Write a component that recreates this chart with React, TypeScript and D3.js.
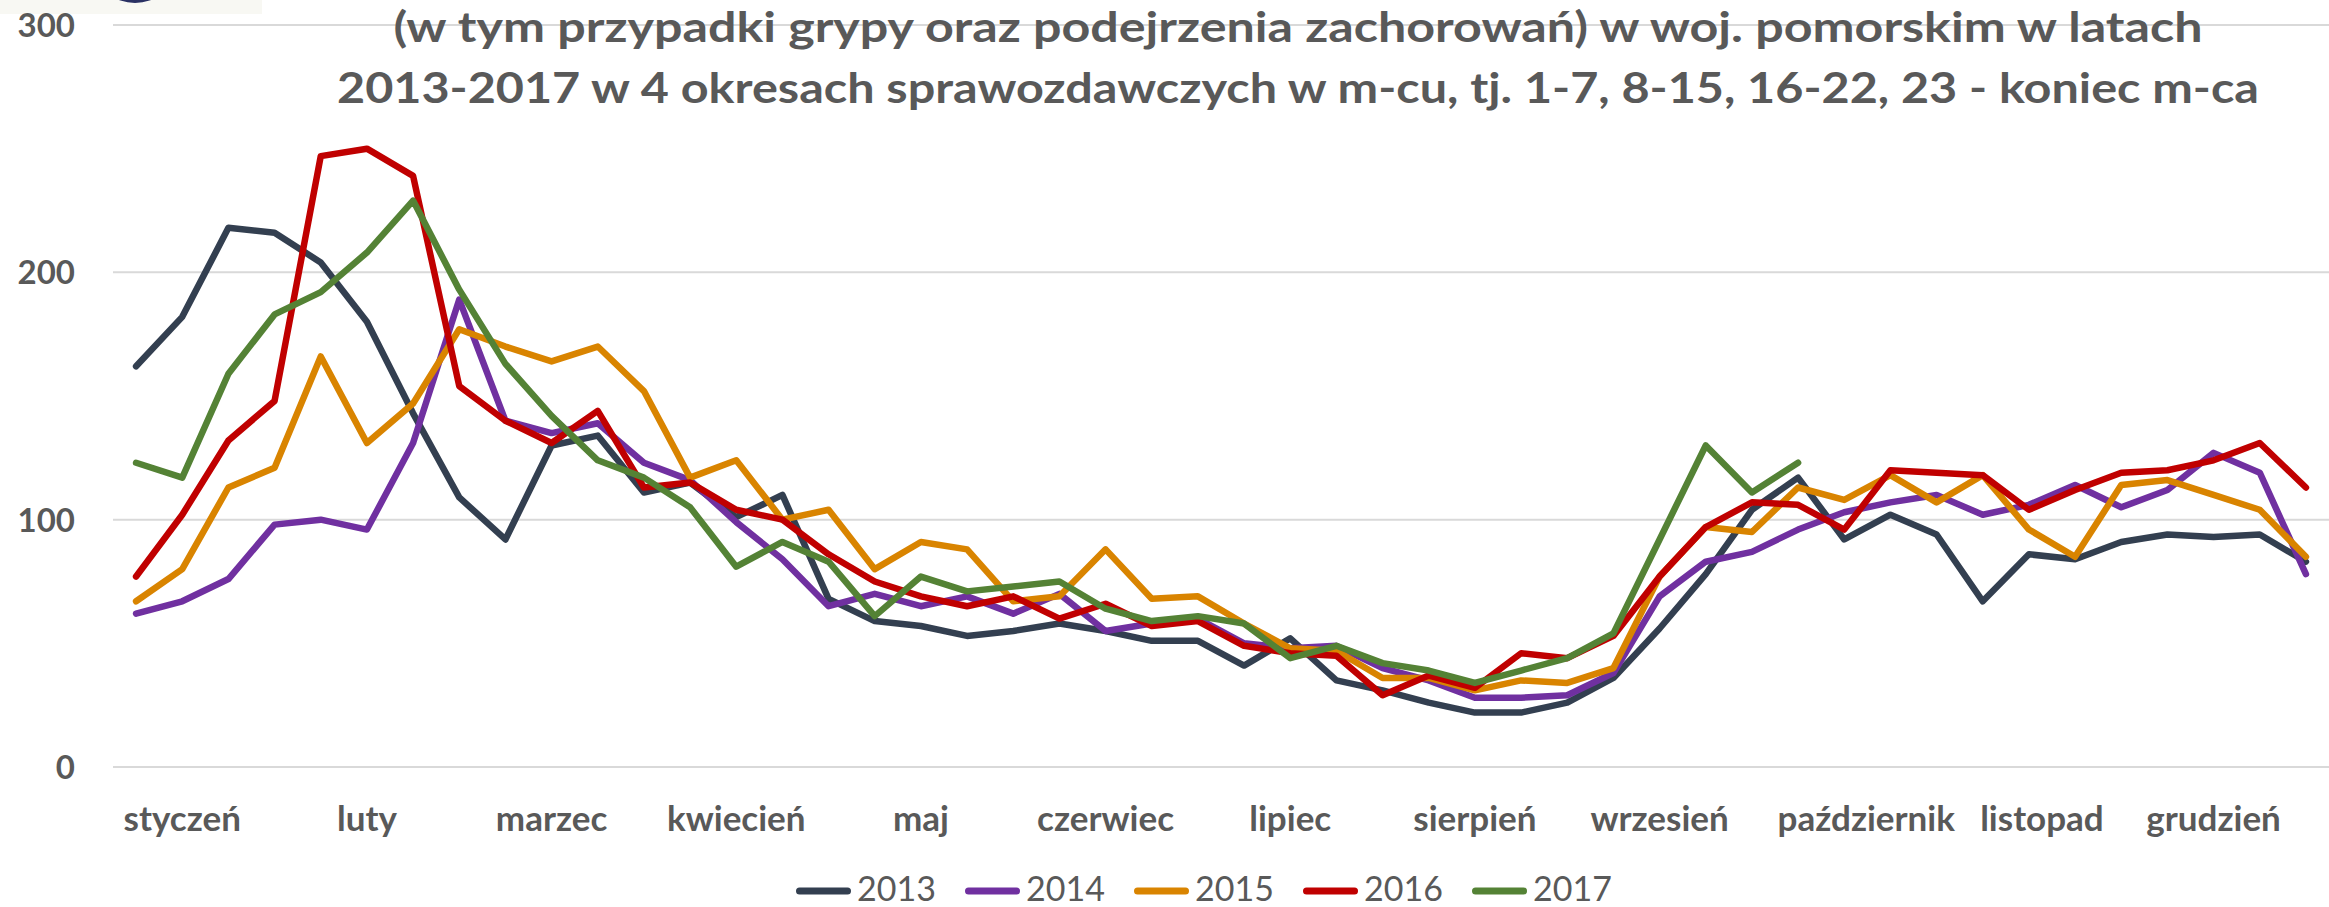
import React from "react";
import * as d3 from "d3";

const months = ["styczeń","luty","marzec","kwiecień","maj","czerwiec","lipiec","sierpień","wrzesień","październik","listopad","grudzień"];
const yTicks = [0, 100, 200, 300];
const years = ["2013", "2014", "2015", "2016", "2017"];
const titleLines = [
  "(w tym przypadki grypy oraz podejrzenia zachorowań) w woj. pomorskim w latach",
  "2013-2017 w 4 okresach sprawozdawczych w m-cu, tj. 1-7, 8-15, 16-22, 23 - koniec m-ca",
];

const v2013 = [162,182,218,216, 204,180,143,109, 92,130,134,111, 115,101,110,68, 59,57,53,55, 58,55,51,51, 41,52,35,31, 26,22,22,26, 36,56,78,104, 117,92,102,94, 67,86,84,91, 94,93,94,83];
const v2014 = [62,67,76,98, 100,96,131,189, 140,135,139,123, 116,99,84,65, 70,65,69,62, 70,55,58,60, 50,48,49,40, 35,28,28,29, 38,69,83,87, 96,103,107,110, 102,106,114,105, 112,127,119,78];
const v2015 = [67,80,113,121, 166,131,147,177, 170,164,170,152, 117,124,100,104, 80,91,88,67, 69,88,68,69, 58,48,47,36, 36,31,35,34, 40,77,97,95, 113,108,118,107, 118,96,85,114, 116,110,104,85];
const v2016 = [77,102,132,148, 247,250,239,154, 140,131,144,113, 115,104,100,86, 75,69,65,69, 60,66,57,59, 49,46,45,29, 37,32,46,44, 53,77,97,107, 106,96,120,119, 118,104,112,119, 120,124,131,113];
const v2017 = [123,117,159,183, 192,208,229,193, 163,142,124,117, 105,81,91,83, 61,77,71,73, 75,64,59,61, 58,44,49,42, 39,34,39,44, 54,92,130,111, 123];

const seriesValues = [v2013, v2014, v2015, v2016, v2017];
const colors = ["#333F50", "#7030A0", "#D98400", "#C00000", "#548235"];

const W = 2329;
const H = 907;
const GRAY = "#595959";

export default function App() {
  const nCat = months.length * 4;
  const x = d3.scaleBand<number>().domain(d3.range(nCat)).range([113, 2329]).paddingInner(0).paddingOuter(0);
  const cx = (i: number) => (x(i) as number) + x.bandwidth() / 2;
  const y = d3.scaleLinear().domain([0, 300]).range([767, 25]);
  const line = d3.line<number>().x((_, i) => cx(i)).y((d) => y(d));

  const labelNudge: Record<number, number> = { 9: 22, 10: 13 };
  const legendStart = 796;
  const legendStep = 169;

  return (
    <svg width={W} height={H} style={{ position: "absolute", left: 0, top: 0, background: "#fff" }} fontFamily="Lato, 'Open Sans', sans-serif">
      <rect x={0} y={0} width={W} height={H} fill="#ffffff" />
      <rect x={0} y={0} width={262} height={14} fill="#f8f8f3" />
      <ellipse cx={135} cy={-29} rx={38} ry={32} fill="#2a3163" />

      {yTicks.map((t) => (
        <g key={t}>
          <line x1={113} x2={2329} y1={y(t)} y2={y(t)} stroke="#D9D9D9" strokeWidth={2} />
          <text x={75} y={y(t)} dy="0.36em" textAnchor="end" fontSize={33} fontWeight={700} fill={GRAY}>{t}</text>
        </g>
      ))}

      {titleLines.map((s, i) => (
        <text key={i} x={1298} y={i === 0 ? 42 : 103} textAnchor="middle" fontSize={42} fontWeight={700} fill={GRAY}
          textLength={i === 0 ? 1809 : 1922} lengthAdjust="spacingAndGlyphs">{s}</text>
      ))}

      {seriesValues.map((vals, si) => (
        <path key={si} d={line(vals) || ""} fill="none" stroke={colors[si]} strokeWidth={6.5} strokeLinejoin="round" strokeLinecap="round" />
      ))}

      {months.map((m, i) => (
        <text key={m} x={cx(i * 4 + 1) + (labelNudge[i] || 0)} y={831} textAnchor="middle" fontSize={35} fontWeight={700} fill={GRAY}>{m}</text>
      ))}

      {years.map((yr, i) => {
        const lx = legendStart + i * legendStep;
        return (
          <g key={yr}>
            <line x1={lx + 3.5} x2={lx + 51.5} y1={891} y2={891} stroke={colors[i]} strokeWidth={7} strokeLinecap="round" />
            <text x={lx + 61} y={901} fontSize={34} fill={GRAY}>{yr}</text>
          </g>
        );
      })}
    </svg>
  );
}
